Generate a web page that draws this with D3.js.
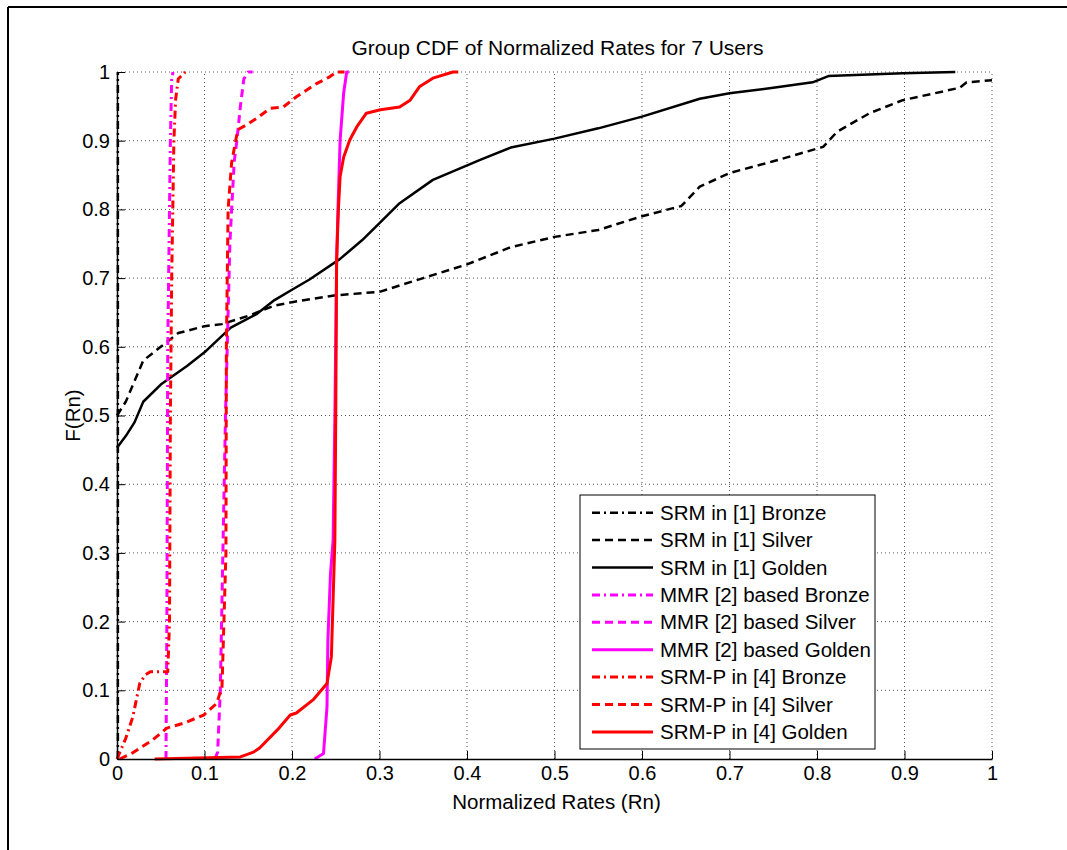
<!DOCTYPE html>
<html>
<head>
<meta charset="utf-8">
<script src="https://cdn.jsdelivr.net/npm/d3@7"></script>
<style>
  body { margin: 0; background: #fff; }
  svg text { font-family: "Liberation Sans", Arial, sans-serif; fill: #000; }
</style>
</head>
<body>
<div id="chart"></div>
<script>
// x ticks / y ticks
const xTicks = [0, 0.1, 0.2, 0.3, 0.4, 0.5, 0.6, 0.7, 0.8, 0.9, 1];
const yTicks = [0, 0.1, 0.2, 0.3, 0.4, 0.5, 0.6, 0.7, 0.8, 0.9, 1];

// curves: [rate, F]
const srmBronze = [[0.001, 0], [0.001, 0.5], [0.001, 1]];
const srmSilver = [
  [0, 0.5], [0.01, 0.52], [0.02, 0.55], [0.03, 0.58], [0.05, 0.6], [0.07, 0.62], [0.1, 0.63],
  [0.12, 0.633], [0.15, 0.645], [0.18, 0.66], [0.2, 0.665], [0.25, 0.675], [0.3, 0.68],
  [0.35, 0.7], [0.4, 0.72], [0.45, 0.745], [0.5, 0.76], [0.55, 0.77], [0.6, 0.79],
  [0.645, 0.805], [0.666, 0.833], [0.7, 0.853], [0.75, 0.87], [0.807, 0.891], [0.823, 0.913],
  [0.86, 0.94], [0.898, 0.959], [0.963, 0.977], [0.971, 0.985], [1, 0.988]
];
const srmGolden = [
  [0, 0.453], [0.01, 0.47], [0.02, 0.49], [0.03, 0.52], [0.05, 0.545], [0.08, 0.572],
  [0.1, 0.592], [0.13, 0.628], [0.16, 0.648], [0.18, 0.668], [0.2, 0.683], [0.22, 0.698],
  [0.255, 0.728], [0.28, 0.755], [0.3, 0.78], [0.323, 0.809], [0.361, 0.843], [0.415, 0.872],
  [0.45, 0.89], [0.5, 0.903], [0.55, 0.918], [0.6, 0.935], [0.666, 0.961], [0.7, 0.969],
  [0.75, 0.977], [0.795, 0.985], [0.813, 0.994], [0.898, 0.998], [0.958, 1]
];
const mmrBronze = [
  [0.056, 0], [0.057, 0.2], [0.058, 0.6], [0.061, 0.9], [0.0625, 0.99], [0.064, 1]
];
const mmrSilver = [
  [0.112, 0], [0.115, 0.01], [0.118, 0.096], [0.121, 0.3], [0.124, 0.5], [0.129, 0.75],
  [0.131, 0.8], [0.134, 0.87], [0.137, 0.9], [0.141, 0.95], [0.145, 0.99], [0.15, 1], [0.155, 1]
];
const mmrGolden = [
  [0.226, 0], [0.236, 0.008], [0.24, 0.076], [0.241, 0.173], [0.244, 0.27], [0.247, 0.319],
  [0.249, 0.5], [0.251, 0.726], [0.253, 0.82], [0.255, 0.901], [0.259, 0.969], [0.2625, 1], [0.265, 1]
];
const srmpBronze = [
  [0, 0], [0.01, 0.03], [0.018, 0.061], [0.026, 0.11], [0.032, 0.122], [0.038, 0.127],
  [0.058, 0.127], [0.06, 0.2], [0.061, 0.5], [0.0625, 0.7], [0.065, 0.9], [0.067, 0.96],
  [0.07, 0.99], [0.078, 1]
];
const srmpSilver = [
  [0.003, 0], [0.018, 0.009], [0.041, 0.028], [0.057, 0.045], [0.076, 0.052], [0.099, 0.064],
  [0.114, 0.081], [0.12, 0.105], [0.1245, 0.3], [0.125, 0.6], [0.127, 0.8], [0.131, 0.868],
  [0.138, 0.916], [0.148, 0.923], [0.16, 0.933], [0.175, 0.947], [0.19, 0.949], [0.205, 0.964],
  [0.228, 0.983], [0.243, 0.993], [0.251, 1], [0.26, 1]
];
const srmpGolden = [
  [0.043, 0], [0.141, 0.003], [0.156, 0.01], [0.163, 0.016], [0.183, 0.042], [0.198, 0.064],
  [0.205, 0.067], [0.224, 0.086], [0.24, 0.11], [0.245, 0.149], [0.249, 0.319], [0.25, 0.5],
  [0.251, 0.726], [0.253, 0.8], [0.255, 0.848], [0.259, 0.876], [0.266, 0.901], [0.274, 0.92],
  [0.285, 0.94], [0.301, 0.945], [0.323, 0.949], [0.335, 0.959], [0.346, 0.979], [0.361, 0.991],
  [0.384, 1], [0.39, 1]
];

const seriesNames = [
  "SRM in [1] Bronze", "SRM in [1] Silver", "SRM in [1] Golden",
  "MMR [2] based Bronze", "MMR [2] based Silver", "MMR [2] based Golden",
  "SRM-P in [4] Bronze", "SRM-P in [4] Silver", "SRM-P in [4] Golden"
];
const seriesData = [srmBronze, srmSilver, srmGolden, mmrBronze, mmrSilver, mmrGolden, srmpBronze, srmpSilver, srmpGolden];
const seriesColors = ["#000", "#000", "#000", "#ff00ff", "#ff00ff", "#ff00ff", "#ff0000", "#ff0000", "#ff0000"];
const seriesStyles = ["dashdot", "dash", "solid", "dashdot", "dash", "solid", "dashdot", "dash", "solid"];

const dashes = { solid: null, dash: "8,5", dashdot: "8,4,2,4" };

const W = 1067, H = 850;
const mLeft = 117, mRight = 992, mTop = 72, mBottom = 759;

const svg = d3.select('#chart').append('svg')
  .attr('width', W)
  .attr('height', H);

// outer frame (top and left edges only are visible)
svg.append('line').attr('x1', 8).attr('x2', W).attr('y1', 7).attr('y2', 7)
  .attr('stroke', '#000').attr('stroke-width', 2);
svg.append('line').attr('x1', 8).attr('x2', 8).attr('y1', 7).attr('y2', H)
  .attr('stroke', '#000').attr('stroke-width', 2);

const x = d3.scaleLinear().domain([0, 1]).range([mLeft, mRight]);
const y = d3.scaleLinear().domain([0, 1]).range([mBottom, mTop]);

// grid
const grid = svg.append('g');
grid.selectAll('.gx').data(xTicks.slice(1)).join('line')
  .attr('x1', d => x(d)).attr('x2', d => x(d))
  .attr('y1', mBottom).attr('y2', mTop)
  .attr('stroke', '#555').attr('stroke-width', 1).attr('stroke-dasharray', '1,3');
grid.selectAll('.gy').data(yTicks.slice(1)).join('line')
  .attr('x1', mLeft).attr('x2', mRight)
  .attr('y1', d => y(d)).attr('y2', d => y(d))
  .attr('stroke', '#555').attr('stroke-width', 1).attr('stroke-dasharray', '1,3');

// curves
const line = d3.line().x(d => x(d[0])).y(d => y(d[1]));
seriesData.forEach((pts, i) => {
  svg.append('path')
    .datum(pts)
    .attr('d', line)
    .attr('fill', 'none')
    .attr('stroke', seriesColors[i])
    .attr('stroke-width', i < 3 ? 2.5 : 3)
    .attr('stroke-linejoin', 'round')
    .attr('stroke-dasharray', dashes[seriesStyles[i]]);
});

// axes
const xAxis = svg.append('g').attr('transform', `translate(0,${mBottom})`)
  .call(d3.axisBottom(x).tickValues(xTicks).tickFormat(d3.format('')).tickSizeInner(-8).tickSizeOuter(0).tickPadding(7));
const yAxis = svg.append('g').attr('transform', `translate(${mLeft},0)`)
  .call(d3.axisLeft(y).tickValues(yTicks).tickFormat(d3.format('')).tickSizeInner(-8).tickSizeOuter(0).tickPadding(7));
[xAxis, yAxis].forEach(a => {
  a.select('.domain').attr('stroke', '#000').attr('stroke-width', 1.5);
  a.selectAll('.tick line').attr('stroke', '#000');
  a.selectAll('text').style('font-size', '20px').attr('font-family', null);
});

// title and labels
svg.append('text').attr('x', (mLeft + mRight) / 2 + 3).attr('y', 55)
  .attr('text-anchor', 'middle').style('font-size', '21px')
  .text('Group CDF of Normalized Rates for 7 Users');
svg.append('text').attr('x', (mLeft + mRight) / 2 + 2).attr('y', 809)
  .attr('text-anchor', 'middle').style('font-size', '20.5px')
  .text('Normalized Rates (Rn)');
svg.append('text').attr('transform', `translate(80,${(mTop + mBottom) / 2}) rotate(-90)`)
  .attr('text-anchor', 'middle').style('font-size', '20.5px')
  .text('F(Rn)');

// legend
const lg = svg.append('g');
lg.append('rect').attr('x', 580).attr('y', 495).attr('width', 295).attr('height', 254)
  .attr('fill', '#fff').attr('stroke', '#000').attr('stroke-width', 1);
seriesNames.forEach((name, i) => {
  const yy = 512.7 + i * 27.4;
  lg.append('line').attr('x1', 592).attr('x2', 653).attr('y1', yy).attr('y2', yy)
    .attr('stroke', seriesColors[i]).attr('stroke-width', i < 3 ? 2.5 : 3)
    .attr('stroke-dasharray', dashes[seriesStyles[i]]);
  lg.append('text').attr('x', 660).attr('y', yy).attr('dy', '0.35em')
    .style('font-size', '20.5px').text(name);
});
</script>
</body>
</html>
